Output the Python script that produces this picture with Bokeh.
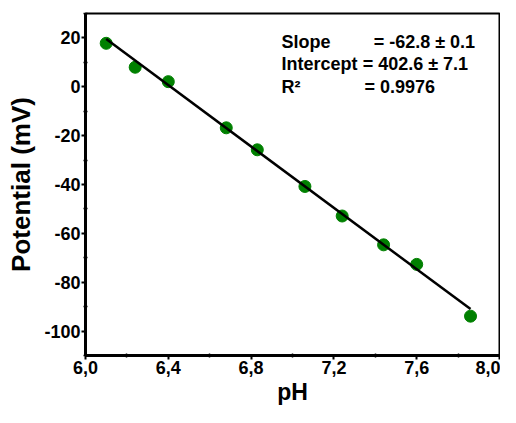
from bokeh.plotting import figure
from bokeh.models import FixedTicker, Range1d, Label, CustomJSTickFormatter
from bokeh.embed import file_html
from bokeh.resources import INLINE

# data
ph = [6.10, 6.24, 6.40, 6.68, 6.83, 7.06, 7.24, 7.44, 7.60, 7.86]
potential = [17.8, 8.0, 2.1, -16.8, -25.8, -40.8, -52.9, -64.7, -72.7, -93.9]
slope = -62.8
intercept = 402.6

x_ticks = [6.0, 6.4, 6.8, 7.2, 7.6, 8.0]
x_tick_labels = ["6,0", "6,4", "6,8", "7,2", "7,6", "8,0"]
x_minor = [6.2, 6.6, 7.0, 7.4, 7.8]
y_ticks = [-100, -80, -60, -40, -20, 0, 20]
y_tick_labels = ["-100", "-80", "-60", "-40", "-20", "0", "20"]
y_minor = [-110, -90, -70, -50, -30, -10, 10, 30]

FONT = "Liberation Sans"

JS = """
let best = 0;
for (let i = 0; i < tv.length; i++) {
  if (Math.abs(tv[i] - tick) < Math.abs(tv[best] - tick)) best = i;
}
return lb[best];
"""

p = figure(width=500, height=407, output_backend="svg", toolbar_location=None,
           x_range=Range1d(6.0, 8.0), y_range=Range1d(-110, 30),
           min_border_left=85, min_border_right=1, min_border_top=13, min_border_bottom=50)
p.grid.visible = False
p.outline_line_color = "black"
p.outline_line_width = 2
p.background_fill_color = "white"
p.border_fill_color = "white"

p.xaxis.ticker = FixedTicker(ticks=x_ticks, minor_ticks=x_minor)
p.xaxis.formatter = CustomJSTickFormatter(args=dict(tv=x_ticks, lb=x_tick_labels), code=JS)
p.yaxis.ticker = FixedTicker(ticks=y_ticks, minor_ticks=y_minor)
p.yaxis.formatter = CustomJSTickFormatter(args=dict(tv=y_ticks, lb=y_tick_labels), code=JS)

for ax in (p.xaxis, p.yaxis):
    ax.axis_line_width = 3
    ax.axis_line_color = "black"
    ax.major_tick_line_width = 2
    ax.major_tick_out = 4
    ax.major_tick_in = 0
    ax.minor_tick_line_width = 1.5
    ax.minor_tick_in = 2
    ax.minor_tick_out = 2
    ax.major_label_text_font = FONT
    ax.major_label_text_font_style = "bold"
    ax.major_label_text_font_size = "18px"
    ax.major_label_text_color = "black"
    ax.axis_label_text_font = FONT
    ax.axis_label_text_font_style = "bold"
    ax.axis_label_text_color = "black"
    ax.major_label_standoff = 1

p.xaxis.axis_label = "pH"
p.yaxis.axis_label = "Potential (mV)"
p.xaxis.axis_label_text_font_size = "23px"
p.yaxis.axis_label_text_font_size = "26px"
p.xaxis.axis_label_standoff = 2
p.yaxis.axis_label_standoff = 5

p.scatter(ph, potential, size=12, color="#008000", line_color="#008000")
x_fit = [min(ph), max(ph)]
y_fit = [slope * x + intercept for x in x_fit]
p.line(x_fit, y_fit, line_color="black", line_width=2.5)

ann = [
    ("Slope", 6.947, 18.5, "=  -62.8 \u00b1 0.1", 7.392),
    ("Intercept", 6.947, 9.5, "= 402.6 \u00b1 7.1", 7.339),
    ("R\u00b2", 6.947, 0.0, "= 0.9976", 7.348),
]
for left, lx, y, right, rx in ann:
    for txt, x in ((left, lx), (right, rx)):
        p.add_layout(Label(x=x, y=y, text=txt, text_font=FONT, text_font_style="bold",
                           text_font_size="18px", text_baseline="middle", text_align="left",
                           text_color="black"))

open("out.html", "w").write(file_html(p, INLINE))
